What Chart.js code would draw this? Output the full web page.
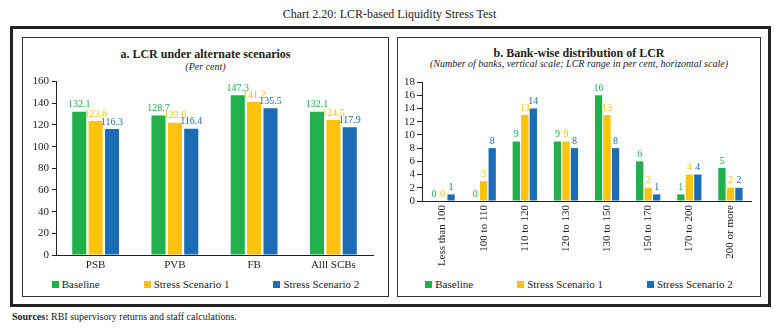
<!DOCTYPE html>
<html lang="en">
<head>
  <meta charset="UTF-8">
  <title>LCR-based Liquidity Stress Test</title>
  <style>
    body {
      margin: 0;
      width: 779px;
      height: 332px;
      background: #fff;
      font-family: 'Liberation Serif', serif;
      color: #222;
      position: relative;
      overflow: hidden;
    }
    .title {
      position: absolute;
      top: 7px;
      left: 0;
      width: 779px;
      text-align: center;
      font-size: 12px;
    }
    .outer {
      position: absolute;
      left: 10px;
      top: 26px;
      width: 761px;
      height: 281px;
      border: 3px solid #222;
      box-sizing: border-box;
    }
    .panel {
      position: absolute;
      top: 37px;
      height: 260px;
      border: 1px solid #333;
      box-sizing: border-box;
    }
    .ptitle {
      position: absolute;
      left: 0;
      right: 0;
      text-align: center;
      font-size: 12px;
      font-weight: bold;
    }
    .psub {
      position: absolute;
      left: 0;
      right: 0;
      text-align: center;
      font-size: 10px;
      font-style: italic;
    }
    canvas { position: absolute; }
    .legend {
      position: absolute;
      left: 0;
      right: 0;
      top: 240px;
      display: flex;
      justify-content: center;
      gap: 44px;
      font-size: 11px;
    }
    .legend span.box {
      display: inline-block;
      width: 7px;
      height: 7px;
      margin-right: 3px;
    }
    .sources {
      position: absolute;
      left: 12px;
      top: 311px;
      font-size: 10px;
    }
  </style>
  <script src="https://cdn.jsdelivr.net/npm/chart.js"></script>
</head>
<body>
  <div class="title">Chart 2.20: LCR-based Liquidity Stress Test</div>
  <div class="outer"></div>

  <div class="panel" style="left:22px; width:367px;">
    <div class="ptitle" style="top:9px;">a. LCR under alternate scenarios</div>
    <div class="psub" style="top:23px;">(Per cent)</div>
    <div class="legend" id="legendA"></div>
  </div>
  <div class="panel" style="left:397px; width:364px;">
    <div class="ptitle" style="top:8px;">b. Bank-wise distribution of LCR</div>
    <div class="psub" style="top:20px;">(Number of banks, vertical scale; LCR range in per cent, horizontal scale)</div>
    <div class="legend" id="legendB"></div>
  </div>

  <canvas id="chartA" width="365" height="201" style="left:23px; top:72px;"></canvas>
  <canvas id="chartB" width="362" height="199" style="left:398px; top:72px;"></canvas>

  <div class="sources"><b>Sources:</b> RBI supervisory returns and staff calculations.</div>

  <script>
    // series
    const seriesNames = ['Baseline', 'Stress Scenario 1', 'Stress Scenario 2'];
    const seriesColors = ['#21b04b', '#ffc20e', '#1c6db6'];

    // panel a
    const bankGroups = ['PSB', 'PVB', 'FB', 'Alll SCBs'];
    const lcrBaseline = [132.1, 128.7, 147.3, 132.1];
    const lcrStress1 = [123.6, 122.0, 141.2, 124.5];
    const lcrStress2 = [116.3, 116.4, 135.5, 117.9];

    // panel b
    const lcrRanges = ['Less than 100', '100 to 110', '110 to 120', '120 to 130',
                       '130 to 150', '150 to 170', '170 to 200', '200 or more'];
    const banksBaseline = [0, 0, 9, 9, 16, 6, 1, 5];
    const banksStress1 = [0, 3, 13, 9, 13, 2, 4, 2];
    const banksStress2 = [1, 8, 14, 8, 8, 1, 4, 2];

    Chart.defaults.font.family = "'Liberation Serif', serif";
    Chart.defaults.font.size = 11;
    Chart.defaults.color = '#222';
    Chart.defaults.animation = false;

    function buildLegend(id) {
      const el = document.getElementById(id);
      seriesNames.forEach((n, i) => {
        const item = document.createElement('div');
        item.innerHTML = '<span class="box" style="background:' + seriesColors[i] + '"></span>' + n;
        el.appendChild(item);
      });
    }
    buildLegend('legendA');
    buildLegend('legendB');

    // value labels above each bar, same colour as the series
    const valueLabels = {
      id: 'valueLabels',
      afterDatasetsDraw(chart, args, opts) {
        const ctx = chart.ctx;
        ctx.save();
        ctx.font = "10px 'Liberation Serif', serif";
        ctx.textAlign = 'center';
        ctx.textBaseline = 'bottom';
        chart.data.datasets.forEach((ds, i) => {
          const meta = chart.getDatasetMeta(i);
          ctx.fillStyle = ds.backgroundColor;
          meta.data.forEach((bar, j) => {
            const v = ds.data[j];
            ctx.fillText(v.toFixed(opts.decimals), bar.x, bar.y - 2);
          });
        });
        ctx.restore();
      }
    };

    function makeDatasets(arrs) {
      return arrs.map((d, i) => ({
        label: seriesNames[i],
        data: d,
        backgroundColor: seriesColors[i],
        categoryPercentage: 0.62,
        barPercentage: 0.86
      }));
    }

    new Chart(document.getElementById('chartA'), {
      type: 'bar',
      data: {
        labels: bankGroups,
        datasets: makeDatasets([lcrBaseline, lcrStress1, lcrStress2])
      },
      plugins: [valueLabels],
      options: {
        responsive: false,
        layout: { padding: { top: 9, right: 15, left: 0, bottom: 0 } },
        plugins: {
          legend: { display: false },
          tooltip: { enabled: false },
          valueLabels: { decimals: 1 }
        },
        scales: {
          x: {
            grid: { display: false, drawTicks: false },
            border: { color: '#222' },
            ticks: { padding: 4 },
            afterFit: s => { s.height = 18; }
          },
          y: {
            min: 0, max: 160,
            ticks: { stepSize: 20, padding: 3, autoSkip: false },
            grid: { drawOnChartArea: false, tickLength: 4, color: '#222' },
            border: { color: '#222' },
            afterFit: s => { s.width = 33; }
          }
        }
      }
    });

    new Chart(document.getElementById('chartB'), {
      type: 'bar',
      data: {
        labels: lcrRanges,
        datasets: makeDatasets([banksBaseline, banksStress1, banksStress2])
      },
      plugins: [valueLabels],
      options: {
        responsive: false,
        layout: { padding: { top: 10, right: 9, left: 0, bottom: 0 } },
        plugins: {
          legend: { display: false },
          tooltip: { enabled: false },
          valueLabels: { decimals: 0 }
        },
        scales: {
          x: {
            grid: { display: false, drawTicks: false },
            border: { color: '#222' },
            ticks: { padding: 4, autoSkip: false, maxRotation: 90, minRotation: 90 },
            afterFit: s => { s.height = 70; }
          },
          y: {
            min: 0, max: 18,
            ticks: { stepSize: 2, padding: 2, autoSkip: false },
            grid: { drawOnChartArea: false, tickLength: 5, color: '#222' },
            border: { color: '#222' },
            afterFit: s => { s.width = 24; }
          }
        }
      }
    });
  </script>
</body>
</html>
